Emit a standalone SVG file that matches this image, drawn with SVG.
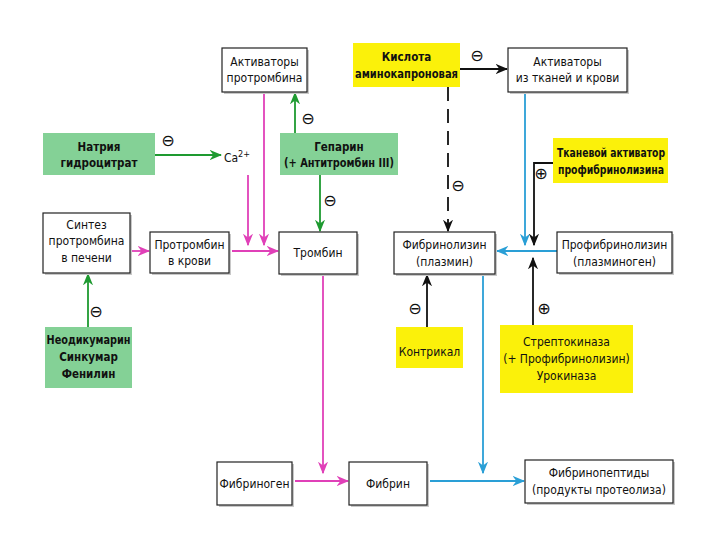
<svg xmlns="http://www.w3.org/2000/svg" width="720" height="540" viewBox="0 0 720 540">
<defs>
<style>
.box{fill:#fff;stroke:#222;stroke-width:1.2}
.g{fill:#84d196}
.y{fill:#fbf10a}
text{font-family:"DejaVu Sans Condensed","DejaVu Sans",sans-serif;font-stretch:condensed;font-size:12px;fill:#111;text-anchor:middle}
.b{font-weight:bold;font-size:11.5px}
.sym{font-family:"DejaVu Sans",sans-serif;font-stretch:normal;font-size:16px}
.pk{stroke:#e040b8;stroke-width:1.8;fill:none}
.gr{stroke:#1e9a30;stroke-width:1.8;fill:none}
.bl{stroke:#2a9fd6;stroke-width:1.8;fill:none}
.bk{stroke:#111;stroke-width:1.8;fill:none}
.sh{fill:#c8c8c8}
</style>
<marker id="ap" viewBox="0 0 10 10" refX="9" refY="5" markerWidth="7" markerHeight="7" orient="auto"><path d="M0,1L10,5L0,9L3,5z" fill="#e040b8"/></marker>
<marker id="ag" viewBox="0 0 10 10" refX="9" refY="5" markerWidth="7" markerHeight="7" orient="auto"><path d="M0,1L10,5L0,9L3,5z" fill="#1e9a30"/></marker>
<marker id="ab" viewBox="0 0 10 10" refX="9" refY="5" markerWidth="7" markerHeight="7" orient="auto"><path d="M0,1L10,5L0,9L3,5z" fill="#2a9fd6"/></marker>
<marker id="ak" viewBox="0 0 10 10" refX="9" refY="5" markerWidth="7" markerHeight="7" orient="auto"><path d="M0,1L10,5L0,9L3,5z" fill="#111"/></marker>
</defs>
<rect width="720" height="540" fill="#fff"/>

<g id="connectors">
<path class="gr" d="M155,155H221" marker-end="url(#ag)"/>
<path class="gr" d="M295,133V93" marker-end="url(#ag)"/>
<path class="gr" d="M320,175V231" marker-end="url(#ag)"/>
<path class="gr" d="M88,327V274" marker-end="url(#ag)"/>
<path class="pk" d="M248,175V245" marker-end="url(#ap)"/>
<path class="pk" d="M264,92V245" marker-end="url(#ap)"/>
<path class="pk" d="M131,251H149" marker-end="url(#ap)"/>
<path class="pk" d="M232,251H278" marker-end="url(#ap)"/>
<path class="pk" d="M323,275V473" marker-end="url(#ap)"/>
<path class="pk" d="M295,481H348" marker-end="url(#ap)"/>
<path class="bk" d="M460,69H507" marker-end="url(#ak)"/>
<path class="bk" d="M448,87V231" stroke-dasharray="14,8" marker-end="url(#ak)"/>
<path class="bl" d="M525,92V245" marker-end="url(#ab)"/>
<path class="bk" d="M553,163H534V245" marker-end="url(#ak)"/>
<path class="bl" d="M557,251H497" marker-end="url(#ab)"/>
<path class="bk" d="M533,325V258" marker-end="url(#ak)"/>
<path class="bk" d="M427,327V275" marker-end="url(#ak)"/>
<path class="bl" d="M483,274V473" marker-end="url(#ab)"/>
<path class="bl" d="M430,481H524" marker-end="url(#ab)"/>
<text class="sym" x="168" y="146">⊖</text>
<text class="sym" x="308" y="124">⊖</text>
<text class="sym" x="330" y="206">⊖</text>
<text class="sym" x="96" y="317">⊖</text>
<text class="sym" x="477" y="61">⊖</text>
<text class="sym" x="458" y="191">⊖</text>
<text class="sym" x="541" y="179">⊕</text>
<text class="sym" x="415" y="314">⊖</text>
<text class="sym" x="544" y="314">⊕</text>
</g>

<g id="activators-prothrombin"><rect class="sh" x="224" y="50" width="85" height="44"/><rect class="box" x="222" y="48" width="85" height="44"/><text x="264.5" y="66">Активаторы</text><text x="264.5" y="82">протромбина</text></g>
<g id="natrium"><rect class="g" x="43" y="133" width="112" height="42"/><text class="b" x="99" y="151">Натрия</text><text class="b" x="99" y="167">гидроцитрат</text></g>
<g id="ca"><text x="237" y="162">Ca<tspan dy="-5" font-size="9">2+</tspan></text></g>
<g id="heparin"><rect class="g" x="280" y="133" width="118" height="42"/><text class="b" x="339" y="151">Гепарин</text><text class="b" x="339" y="167" textLength="110" lengthAdjust="spacingAndGlyphs">(+ Антитромбин III)</text></g>
<g id="synthesis"><rect class="sh" x="45" y="215" width="87" height="60"/><rect class="box" x="43" y="213" width="87" height="60"/><text x="86.5" y="229">Синтез</text><text x="86.5" y="245">протромбина</text><text x="86.5" y="262">в печени</text></g>
<g id="prothrombin"><rect class="sh" x="152" y="234" width="79" height="41"/><rect class="box" x="150" y="232" width="79" height="41"/><text x="189.5" y="249">Протромбин</text><text x="189.5" y="265">в крови</text></g>
<g id="thrombin"><rect class="sh" x="281" y="234" width="78" height="42"/><rect class="box" x="279" y="232" width="78" height="42"/><text x="318" y="257">Тромбин</text></g>
<g id="neodicumarin"><rect class="g" x="45" y="327" width="87" height="61"/><text class="b" x="88.5" y="344" textLength="84" lengthAdjust="spacingAndGlyphs">Неодикумарин</text><text class="b" x="88.5" y="361">Синкумар</text><text class="b" x="88.5" y="378">Фенилин</text></g>
<g id="fibrinogen"><rect class="sh" x="219" y="464" width="75" height="43"/><rect class="box" x="217" y="462" width="75" height="43"/><text x="254.5" y="488">Фибриноген</text></g>
<g id="fibrin"><rect class="sh" x="351" y="464" width="78" height="43"/><rect class="box" x="349" y="462" width="78" height="43"/><text x="388" y="488">Фибрин</text></g>
<g id="fibrinopeptides"><rect class="sh" x="527" y="462" width="148" height="43"/><rect class="box" x="525" y="460" width="148" height="43"/><text x="599" y="477">Фибринопептиды</text><text x="599" y="494">(продукты протеолиза)</text></g>
<g id="aminocaproic"><rect class="y" x="353" y="43" width="107" height="44"/><text class="b" x="406.5" y="61">Кислота</text><text class="b" x="406.5" y="78" textLength="103" lengthAdjust="spacingAndGlyphs">аминокапроновая</text></g>
<g id="activators-tissue"><rect class="sh" x="510" y="50" width="119" height="44"/><rect class="box" x="508" y="48" width="119" height="44"/><text x="567.5" y="66">Активаторы</text><text x="567.5" y="82">из тканей и крови</text></g>
<g id="tissue-activator"><rect class="y" x="553" y="138" width="115" height="45"/><text class="b" x="611" y="157" textLength="108" lengthAdjust="spacingAndGlyphs">Тканевой активатор</text><text class="b" x="611" y="174" textLength="106" lengthAdjust="spacingAndGlyphs">профибринолизина</text></g>
<g id="fibrinolysin"><rect class="sh" x="396" y="234" width="101" height="42"/><rect class="box" x="394" y="232" width="101" height="42"/><text x="444.5" y="249">Фибринолизин</text><text x="444.5" y="266">(плазмин)</text></g>
<g id="profibrinolysin"><rect class="sh" x="559" y="234" width="115" height="41"/><rect class="box" x="557" y="232" width="115" height="41"/><text x="614.5" y="249">Профибринолизин</text><text x="614.5" y="266">(плазминоген)</text></g>
<g id="contrical"><rect class="y" x="396" y="327" width="67" height="41"/><text x="429.5" y="356">Контрикал</text></g>
<g id="streptokinase"><rect class="y" x="500" y="325" width="133" height="68"/><text x="566.5" y="346">Стрептокиназа</text><text x="566.5" y="363">(+ Профибринолизин)</text><text x="566.5" y="380">Урокиназа</text></g>
</svg>
